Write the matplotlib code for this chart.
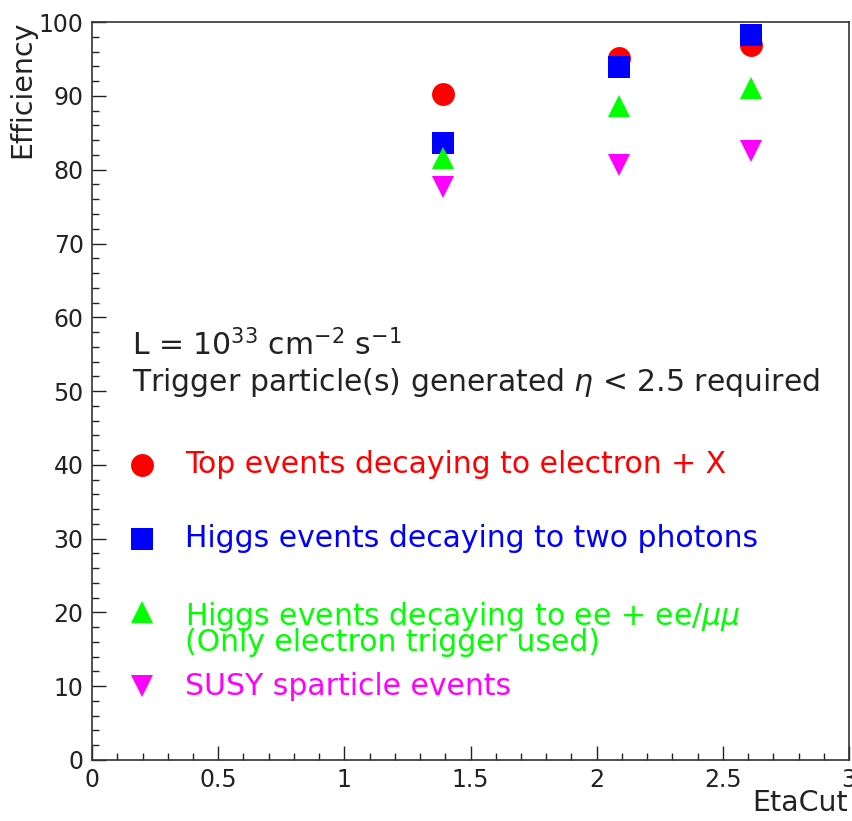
import matplotlib
matplotlib.use("Agg")
import matplotlib.pyplot as plt
from matplotlib.ticker import MultipleLocator

# eta cut values and efficiencies (%) per sample
eta_cut = [1.39, 2.09, 2.61]
top_eff = [90.3, 95.2, 96.9]
higgs_gg_eff = [83.6, 93.9, 98.3]
higgs_4l_eff = [81.6, 88.7, 91.1]
susy_eff = [77.6, 80.6, 82.6]

series = [
    ("Top events decaying to electron + X", top_eff, "o", "#ff0000", 40),
    ("Higgs events decaying to two photons", higgs_gg_eff, "s", "#0000ff", 30),
    ("Higgs events decaying to ee + ee/$\\mu\\mu$\n(Only electron trigger used)",
     higgs_4l_eff, "^", "#00ff00", 20),
    ("SUSY sparticle events", susy_eff, "v", "#ff00ff", 10),
]

plt.rcParams["mathtext.fontset"] = "dejavusans"
fig = plt.figure(figsize=(8.53, 8.21), dpi=100)
ax = fig.add_axes([0.1079, 0.0743, 0.8874, 0.8987])

MS = 16.5
FS = 21.5
for label, vals, mk, color, ly in series:
    ax.plot(eta_cut, vals, ls="none", marker=mk, ms=MS, color=color,
            markeredgewidth=0, zorder=3)
    # hand-made legend entry inside the frame
    ax.plot([0.198], [ly], ls="none", marker=mk, ms=MS, color=color,
            markeredgewidth=0, clip_on=False)
    if "\n" in label:
        ax.text(0.37, ly + 1.7, label, color=color, fontsize=FS, ha="left",
                va="top", linespacing=0.8)
    else:
        ax.text(0.37, ly, label, color=color, fontsize=FS, ha="left",
                va="center")

ax.text(0.16, 56.2, "L = 10$^{33}$ cm$^{-2}$ s$^{-1}$", fontsize=FS,
        color="#222222", va="center", ha="left")
ax.text(0.16, 51.2, "Trigger particle(s) generated $\\eta$ < 2.5 required",
        fontsize=FS, color="#222222", va="center", ha="left")

ax.set_xlim(0, 3)
ax.set_ylim(0, 100)
ax.xaxis.set_major_locator(MultipleLocator(0.5))
ax.xaxis.set_minor_locator(MultipleLocator(0.1))
ax.yaxis.set_major_locator(MultipleLocator(10))
ax.yaxis.set_minor_locator(MultipleLocator(2))
ax.xaxis.set_major_formatter(plt.FuncFormatter(lambda v, p: f"{v:g}"))
ax.tick_params(which="both", direction="in", top=False, right=False,
               labelsize=17, colors="#222222")
ax.tick_params(which="major", length=10, width=1)
ax.tick_params(which="minor", length=5, width=1)
ax.tick_params(axis="x", pad=6)
ax.tick_params(axis="y", pad=6)
for s in ax.spines.values():
    s.set_linewidth(1.2)
    s.set_color("#333333")

fig.text(0.026, 0.975, "Efficiency", rotation=90, ha="center", va="top",
         fontsize=20.5, color="#222222")
fig.text(0.994, 0.022, "EtaCut", ha="right", va="center", fontsize=20.5,
         color="#222222")

fig.savefig("out.png", dpi=100)
